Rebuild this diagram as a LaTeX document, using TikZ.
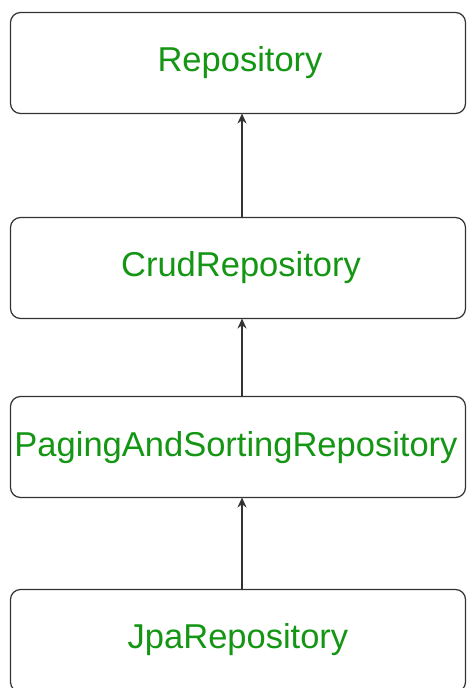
\documentclass[tikz,border=0pt]{standalone}
\usepackage{fontspec}
\setmainfont{Liberation Sans}
\usetikzlibrary{arrows.meta}
\definecolor{labelgreen}{RGB}{20,150,20}
\definecolor{edgegray}{RGB}{51,51,51}
\tikzset{
  repobox/.style={draw=edgegray, line width=1.2pt, rounded corners=10pt, fill=white},
  repolabel/.style={text=labelgreen, font=\fontsize{34.5}{40}\selectfont, inner sep=0pt},
  inherits/.style={draw=edgegray, line width=1.1pt, -{Stealth[length=10pt,width=9pt]}}
}
\begin{document}
\begin{tikzpicture}[x=1pt,y=-1pt]
  \useasboundingbox (0,0) rectangle (467,688);
  \clip (0,0) rectangle (467,688);
  \fill[white] (0,0) rectangle (467,688);

  % class boxes
  \draw[repobox] (10.5,12.5) rectangle (465.5,113.5);
  \draw[repobox] (10.5,217.5) rectangle (465.5,318.5);
  \draw[repobox] (10.5,396.5) rectangle (465.5,497.5);
  \draw[repobox] (10.5,589.5) rectangle (465.5,692);

  % labels
  \node[repolabel] (repo)   at (240,63)  {Repository};
  \node[repolabel] (crud)   at (241,268) {CrudRepository};
  \node[repolabel] (paging) at (236,448) {PagingAndSortingRepository};
  \node[repolabel] (jpa)    at (238,640) {JpaRepository};

  % anchor points on the box edges
  \coordinate (repoB)   at (242,113.5);
  \coordinate (crudT)   at (242,217.5);
  \coordinate (crudB)   at (242,318.5);
  \coordinate (pagingT) at (242,396.5);
  \coordinate (pagingB) at (242,497.5);
  \coordinate (jpaT)    at (242,589.5);

  % inheritance connectors
  \draw[inherits] (crudT) -- (repoB);
  \draw[inherits] (pagingT) -- (crudB);
  \draw[inherits] (jpaT) -- (pagingB);
\end{tikzpicture}
\end{document}
